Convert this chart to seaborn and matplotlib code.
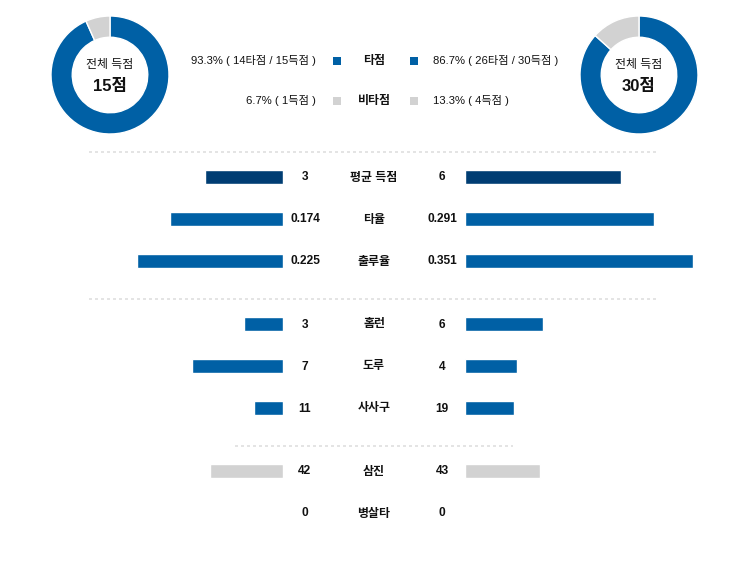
import numpy as np
import pandas as pd
import seaborn as sns
import matplotlib.pyplot as plt

W, H = 747, 568

# comparison rows (left team / right team)
stats = ["평균 득점", "타율", "출루율", "홈런", "도루", "사사구", "삼진", "병살타"]
left_vals = [3, 0.174, 0.225, 3, 7, 11, 42, 0]
right_vals = [6, 0.291, 0.351, 6, 4, 19, 43, 0]
left_text = ["3", "0.174", "0.225", "3", "7", "11", "42", "0"]
right_text = ["6", "0.291", "0.351", "6", "4", "19", "43", "0"]
scale_max = [9, 0.36, 0.36, 18, 18, 90, 135, 10]
group_sizes = [3, 3, 2]

# run totals for the donuts
total_runs = [15, 30]
rbi_runs = [14, 26]

NAVY = "#003d73"
BLUE = "#0060a5"
GRAY = "#d2d2d2"
bar_colors = [NAVY, BLUE, BLUE, BLUE, BLUE, BLUE, GRAY, GRAY]
FONT = ["Liberation Sans", "Noto Sans CJK KR", "DejaVu Sans"]
TXT = "#111111"

sns.set_theme(style="white")
plt.rcParams["font.family"] = FONT

# row positions in pixels, with a half-row gap between groups
ypos = []
y = 177
for n in group_sizes:
    for _ in range(n):
        ypos.append(y)
        y += 42
    y += 21

df = pd.DataFrame({
    "stat": stats,
    "y": ypos,
    "left": np.array(left_vals) / np.array(scale_max),
    "right": np.array(right_vals) / np.array(scale_max),
})
pal = dict(zip(stats, bar_colors))

fig = plt.figure(figsize=(W / 100, H / 100), dpi=100)

bar_w = 234
axL = fig.add_axes([(283 - bar_w) / W, 0, bar_w / W, 1])
axR = fig.add_axes([465 / W, 0, bar_w / W, 1])
for ax, col, lim in [(axL, "left", (1, 0)), (axR, "right", (0, 1))]:
    sns.barplot(data=df, x=col, y="y", hue="stat", palette=pal, orient="y",
                native_scale=True, width=0.31, dodge=False, legend=False,
                saturation=1, ax=ax)
    ax.set_xlim(*lim)
    ax.set_ylim(H, 0)
    ax.axis("off")

ov = fig.add_axes([0, 0, 1, 1])
ov.set_xlim(0, W)
ov.set_ylim(H, 0)
ov.axis("off")

for yy, s, lt, rt in zip(ypos, stats, left_text, right_text):
    kw = dict(va="center", ha="center", fontsize=8.6, fontweight="bold", color=TXT)
    ov.text(305, yy + 0.5, lt, **kw)
    ov.text(374, yy + 0.5, s, **kw)
    ov.text(442, yy + 0.5, rt, **kw)

# dotted dividers
dot = dict(color="#e4e4e4", lw=1.44, linestyle=(0, (1.5, 1.5)), dash_capstyle="butt")
ov.plot([89, 656], [152, 152], **dot)
ov.plot([89, 656], [299, 299], **dot)
ov.plot([235, 513], [446, 446], **dot)

# donuts
R = 59
for cx, tot, rbi in [(110, total_runs[0], rbi_runs[0]), (639, total_runs[1], rbi_runs[1])]:
    axd = fig.add_axes([(cx - R) / W, 1 - (75 + R) / H, 2 * R / W, 2 * R / H])
    axd.pie([rbi, tot - rbi], colors=[BLUE, GRAY], startangle=90, counterclock=False,
            radius=1, wedgeprops=dict(width=0.36, edgecolor="white", linewidth=1))
    axd.set_xlim(-1, 1)
    axd.set_ylim(-1, 1)
    axd.set_aspect("equal")
    axd.axis("off")
    ov.text(cx, 65, "전체 득점", ha="center", va="center", fontsize=8.6, color=TXT)
    ov.text(cx, 86, f"{tot}점", ha="center", va="center", fontsize=12,
            fontweight="bold", color=TXT)

# legend in the middle
nonrbi = [t - r for t, r in zip(total_runs, rbi_runs)]
pct_rbi = [100 * r / t for r, t in zip(rbi_runs, total_runs)]
pct_non = [100 * n / t for n, t in zip(nonrbi, total_runs)]

rows = [
    (61, BLUE, "타점",
     f"{pct_rbi[0]:.1f}% ( {rbi_runs[0]}타점 / {total_runs[0]}득점 )",
     f"{pct_rbi[1]:.1f}% ( {rbi_runs[1]}타점 / {total_runs[1]}득점 )"),
    (101, GRAY, "비타점",
     f"{pct_non[0]:.1f}% ( {nonrbi[0]}득점 )",
     f"{pct_non[1]:.1f}% ( {nonrbi[1]}득점 )"),
]
for yy, c, lab, lt, rt in rows:
    ov.text(316, yy, lt, ha="right", va="center", fontsize=8.1, color=TXT)
    ov.text(433, yy, rt, ha="left", va="center", fontsize=8.1, color=TXT)
    ov.text(374, yy, lab, ha="center", va="center", fontsize=8.6,
            fontweight="bold", color=TXT)
    ov.scatter([337, 414], [yy, yy], marker="s", s=33, color=c, linewidths=0)

fig.savefig("out.png", dpi=100)
